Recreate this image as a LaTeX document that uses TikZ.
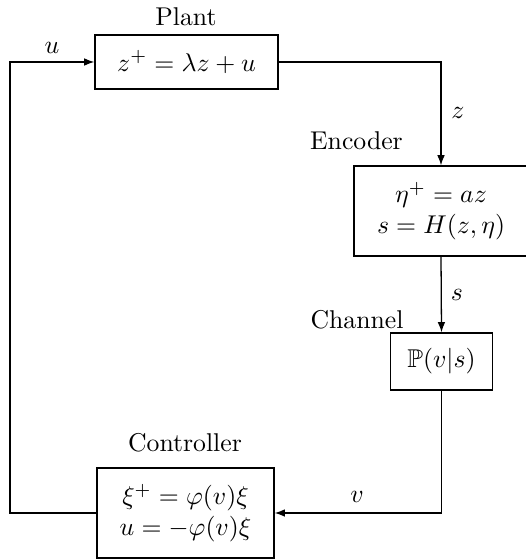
\documentclass[tikz,border=0pt]{standalone}
\usepackage{amssymb}
\usetikzlibrary{arrows.meta}
\begin{document}
\begin{tikzpicture}[x=0.389pt,y=-0.389pt,
  blk/.style={draw,line width=0.5pt,rectangle,align=center,inner sep=2pt},
  lbl/.style={inner sep=0pt},
  conn/.style={line width=0.5pt,-{Latex[length=4pt,width=3pt]}}]
\useasboundingbox (0,0) rectangle (525,559);
\node[blk,minimum width=71.2pt,minimum height=21pt] (plant) at (186.5,62) {$z^+ = \lambda z + u$};
\node[blk,minimum width=67.7pt,minimum height=35pt] (enc) at (441,211) {$\eta^+ = az$\\$s = H(z,\eta)$};
\node[blk,minimum width=39.5pt,minimum height=22.2pt] (chan) at (441.5,361.5) {$\mathbb{P}(v|s)$};
\node[blk,minimum width=68.9pt,minimum height=35pt] (ctrl) at (185.5,513) {$\xi^+ = \varphi(v)\xi$\\$u = -\varphi(v)\xi$};
\node[lbl] (tplant) at (186,17) {Plant};
\node[lbl] (tenc) at (356.5,141) {Encoder};
\node[lbl] (tchan) at (357,320) {Channel};
\node[lbl] (tctrl) at (185,443) {Controller};
\node[lbl] (lu) at (52,48) {$u$};
\node[lbl] (lz) at (458,113) {$z$};
\node[lbl] (ls) at (457,295) {$s$};
\node[lbl] (lv) at (357,497) {$v$};
\coordinate (lft) at (10,62);
\draw[conn] (plant.east) -| (enc.north);
\draw[conn] (enc.south) -- (chan.north);
\draw[conn] (chan.south) |- (ctrl.east);
\draw[conn] (ctrl.west) -| (lft) -- (plant.west);
\end{tikzpicture}
\end{document}
